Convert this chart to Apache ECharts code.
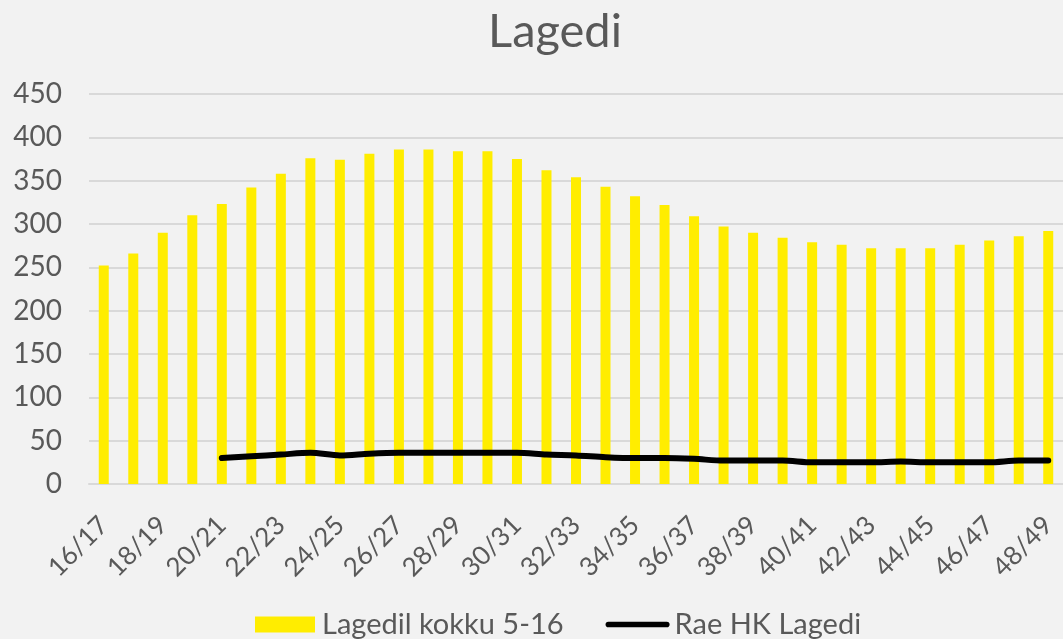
<!DOCTYPE html>
<html>
<head>
<meta charset="utf-8">
<script src="https://cdn.jsdelivr.net/npm/echarts@6/dist/echarts.min.js"></script>
<style>
  html, body { margin: 0; padding: 0; background: #f2f2f2; }
  #main { width: 1063px; height: 639px; }
</style>
</head>
<body>
<div id="main"></div>
<script>
// kooliaastad 16/17 ... 48/49
const categories = ['16/17', '17/18', '18/19', '19/20', '20/21', '21/22', '22/23', '23/24', '24/25', '25/26',
  '26/27', '27/28', '28/29', '29/30', '30/31', '31/32', '32/33', '33/34', '34/35', '35/36', '36/37',
  '37/38', '38/39', '39/40', '40/41', '41/42', '42/43', '43/44', '44/45', '45/46', '46/47', '47/48', '48/49'];

const lagedilKokku = [252, 266, 290, 310, 323, 342, 358, 376, 374, 381, 386, 386, 384, 384, 375, 362, 354,
  343, 332, 322, 309, 297, 290, 284, 279, 276, 272, 272, 272, 276, 281, 286, 292];

// Rae HK algab 20/21
const raeHK = [null, null, null, null, 30, 32, 34, 36, 33, 35, 36, 36, 36, 36, 36, 34, 33,
  31, 30, 30, 29, 27, 27, 27, 25, 25, 25, 26, 25, 25, 25, 27, 27];

const yTicks = [0, 450, 50]; // min, max, samm

const textColor = '#595959';
const font = 'Lato';

const myChart = echarts.init(document.getElementById('main'));

const option = {
  backgroundColor: '#f2f2f2',
  textStyle: { fontFamily: font },
  title: {
    text: 'Lagedi',
    left: 483,
    top: 3,
    textStyle: { fontSize: 47, fontWeight: 'normal', color: textColor, fontFamily: font }
  },
  legend: {
    top: 605,
    left: 250,
    itemGap: 42,
    itemWidth: 64,
    itemHeight: 16,
    textStyle: { fontSize: 29, color: textColor, fontFamily: font },
    data: [
      { name: 'Lagedil kokku 5-16', icon: 'path://M2,0 L62,0 L62,16 L2,16 Z' },
      { name: 'Rae HK Lagedi', icon: 'path://M3,0 L65,0 A3,3 0 0 1 65,6 L3,6 A3,3 0 0 1 3,0 Z' }
    ]
  },
  grid: {
    left: 89,
    right: -8,
    top: 94,
    bottom: 155,
    containLabel: false
  },
  xAxis: {
    type: 'category',
    data: categories,
    axisTick: { show: false },
    axisLine: { lineStyle: { color: '#d9d9d9', width: 2 } },
    axisLabel: {
      interval: 1,
      rotate: 45,
      fontSize: 26,
      color: textColor,
      margin: 37
    }
  },
  yAxis: {
    type: 'value',
    min: yTicks[0],
    max: yTicks[1],
    interval: yTicks[2],
    axisLine: { show: false },
    axisTick: { show: false },
    splitLine: { lineStyle: { color: '#d9d9d9', width: 2 } },
    axisLabel: { fontSize: 28, color: textColor, margin: 27, padding: [5, 0, 0, 0] }
  },
  series: [
    {
      name: 'Lagedil kokku 5-16',
      type: 'bar',
      barWidth: 10,
      itemStyle: { color: '#ffed00' },
      data: lagedilKokku
    },
    {
      name: 'Rae HK Lagedi',
      type: 'line',
      smooth: 0.3,
      symbol: 'none',
      lineStyle: { color: '#000000', width: 6, cap: 'round' },
      itemStyle: { color: '#000000' },
      data: raeHK
    }
  ]
};

myChart.setOption(option);
</script>
</body>
</html>
